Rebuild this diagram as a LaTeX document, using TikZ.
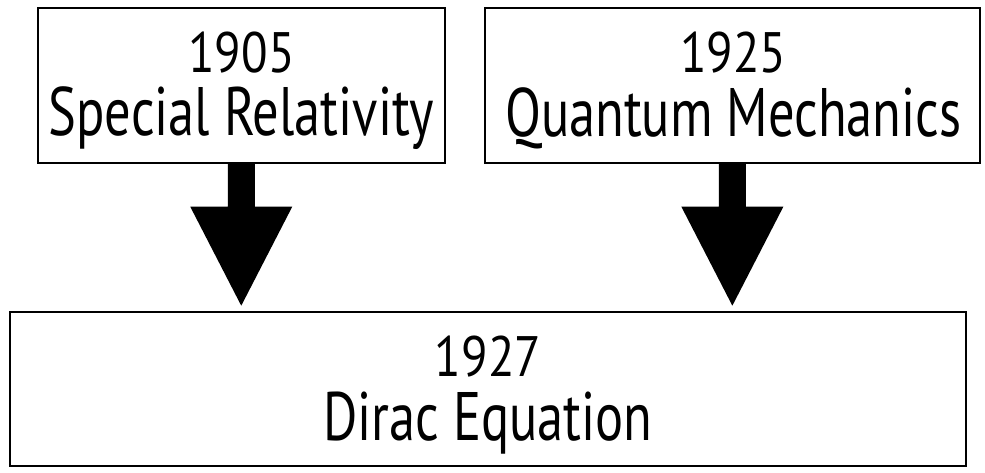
\documentclass[tikz,border=0pt]{standalone}
\usepackage{fontspec}
\setmainfont[FakeStretch=0.765]{PT Sans}
\newfontfamily\yearfont[FakeStretch=0.855]{PT Sans}
\usetikzlibrary{calc}
\begin{document}
\begin{tikzpicture}[x=1pt,y=-1pt,
  box/.style={draw=black, line width=2pt, inner sep=0pt, fill=white},
  year/.style={anchor=base, inner sep=0pt, font=\yearfont\fontsize{57}{60}\selectfont},
  title/.style={anchor=base, inner sep=0pt, font=\fontsize{68.6}{72}\selectfont},
  fatarrow/.style={fill=black}]
\useasboundingbox (0,0) rectangle (985,472);
\node[box, minimum width=407.5pt, minimum height=155.2pt] (sr) at (241.25,85.1) {};
\node[box, minimum width=495.3pt, minimum height=155.2pt] (qm) at (732.35,85.1) {};
\node[box, minimum width=956pt, minimum height=154pt] (de) at (488,389) {};
\node[year] (sry) at (241.5,72) {1905};
\node[title] (srt) at (241.5,135.5) {Special Relativity};
\node[year] (qmy) at (733.3,72) {1925};
\node[title] (qmt) at (733.3,136) {Quantum Mechanics};
\node[year] (dey) at (488,376.7) {1927};
\node[title] (det) at (488,440) {Dirac Equation};
\fill[fatarrow] ($(sr.south)+(-13.5,0)$) -- ++(0,43) -- ++(-37.5,0)
  -- ($(sr.south |- de.north)+(0,-5.3)$) -- ($(sr.south)+(51,43)$)
  -- ++(-37.5,0) -- ++(0,-43) -- cycle;
\fill[fatarrow] ($(qm.south)+(-13.5,0)$) -- ++(0,43) -- ++(-37.5,0)
  -- ($(qm.south |- de.north)+(0,-5.3)$) -- ($(qm.south)+(51,43)$)
  -- ++(-37.5,0) -- ++(0,-43) -- cycle;
\end{tikzpicture}
\end{document}
